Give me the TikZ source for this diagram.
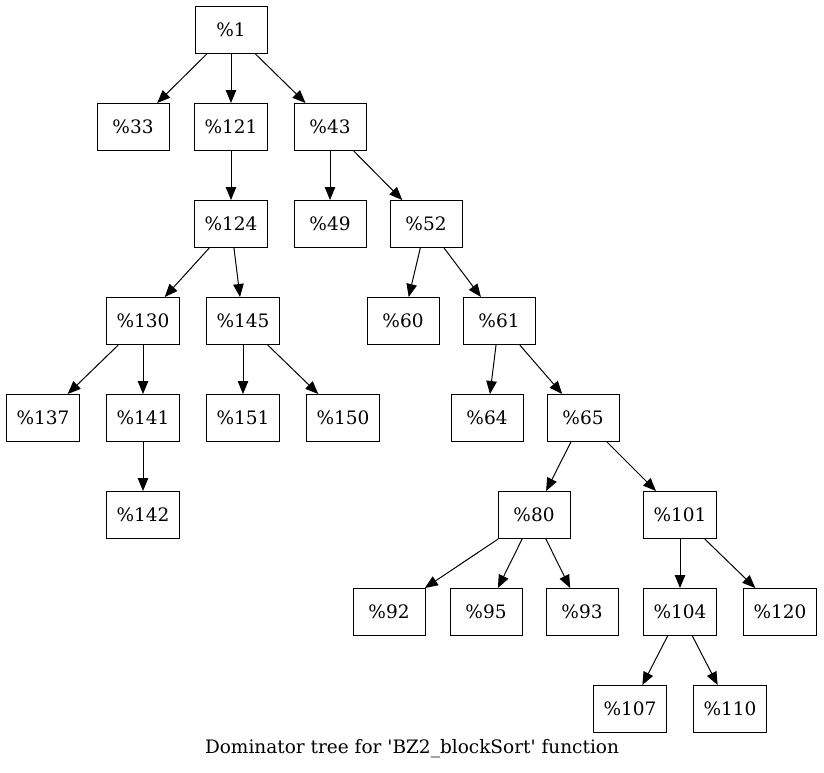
\documentclass[tikz,border=0pt]{standalone}
\usepackage{fontspec}
\setmainfont{DejaVu Serif}
\usetikzlibrary{arrows.meta}

\tikzset{
  block/.style={draw, line width=1pt, minimum width=72pt, minimum height=47pt,
    inner xsep=10.5pt, font=\fontsize{18.5}{22}\selectfont},
  dom/.style={-{Triangle[length=13pt,width=10.5pt]}, line width=1pt}
}

\begin{document}
\begin{tikzpicture}[x=1pt, y=-1pt]
            \useasboundingbox (0,0) rectangle (824,772);

            % blocks, one row per depth
            \node[block] (n1)   at (231,30)  {\%1};
            \node[block] (n33)  at (133,127) {\%33};
            \node[block] (n121) at (231,127) {\%121};
            \node[block] (n43)  at (330,127) {\%43};
            \node[block] (n124) at (231,224) {\%124};
            \node[block] (n49)  at (330,224) {\%49};
            \node[block] (n52)  at (426,224) {\%52};
            \node[block] (n130) at (143,321) {\%130};
            \node[block] (n145) at (243,321) {\%145};
            \node[block] (n60)  at (403,321) {\%60};
            \node[block] (n61)  at (499,321) {\%61};
            \node[block] (n137) at (43,418)  {\%137};
            \node[block] (n141) at (143,418) {\%141};
            \node[block] (n151) at (243,418) {\%151};
            \node[block] (n150) at (343,418) {\%150};
            \node[block] (n64)  at (487,418) {\%64};
            \node[block] (n65)  at (583,418) {\%65};
            \node[block] (n142) at (143,515) {\%142};
            \node[block] (n80)  at (534,515) {\%80};
            \node[block] (n101) at (680,515) {\%101};
            \node[block] (n92)  at (389,612) {\%92};
            \node[block] (n95)  at (486,612) {\%95};
            \node[block] (n93)  at (582,612) {\%93};
            \node[block] (n104) at (680,612) {\%104};
            \node[block] (n120) at (780,612) {\%120};
            \node[block] (n107) at (630,709) {\%107};
            \node[block] (n110) at (730,709) {\%110};

            \node[font=\fontsize{18.5}{22}\selectfont] (caption) at (412,749)
              {Dominator tree for \textquotesingle BZ2\_blockSort\textquotesingle{} function};

            % dominator edges
            \draw [dom] (n1) -- (n33);
            \draw [dom] (n1) -- (n121);
            \draw [dom] (n1) -- (n43);
            \draw [dom] (n121) -- (n124);
            \draw [dom] (n43) -- (n49);
            \draw [dom] (n43) -- (n52);
            \draw [dom] (n124) -- (n130);
            \draw [dom] (n124) -- (n145);
            \draw [dom] (n52) -- (n60);
            \draw [dom] (n52) -- (n61);
            \draw [dom] (n130) -- (n137);
            \draw [dom] (n130) -- (n141);
            \draw [dom] (n145) -- (n151);
            \draw [dom] (n145) -- (n150);
            \draw [dom] (n61) -- (n64);
            \draw [dom] (n61) -- (n65);
            \draw [dom] (n141) -- (n142);
            \draw [dom] (n65) -- (n80);
            \draw [dom] (n65) -- (n101);
            \draw [dom] (n80) -- (n92);
            \draw [dom] (n80) -- (n95);
            \draw [dom] (n80) -- (n93);
            \draw [dom] (n101) -- (n104);
            \draw [dom] (n101) -- (n120);
            \draw [dom] (n104) -- (n107);
            \draw [dom] (n104) -- (n110);
        \end{tikzpicture}
\end{document}
